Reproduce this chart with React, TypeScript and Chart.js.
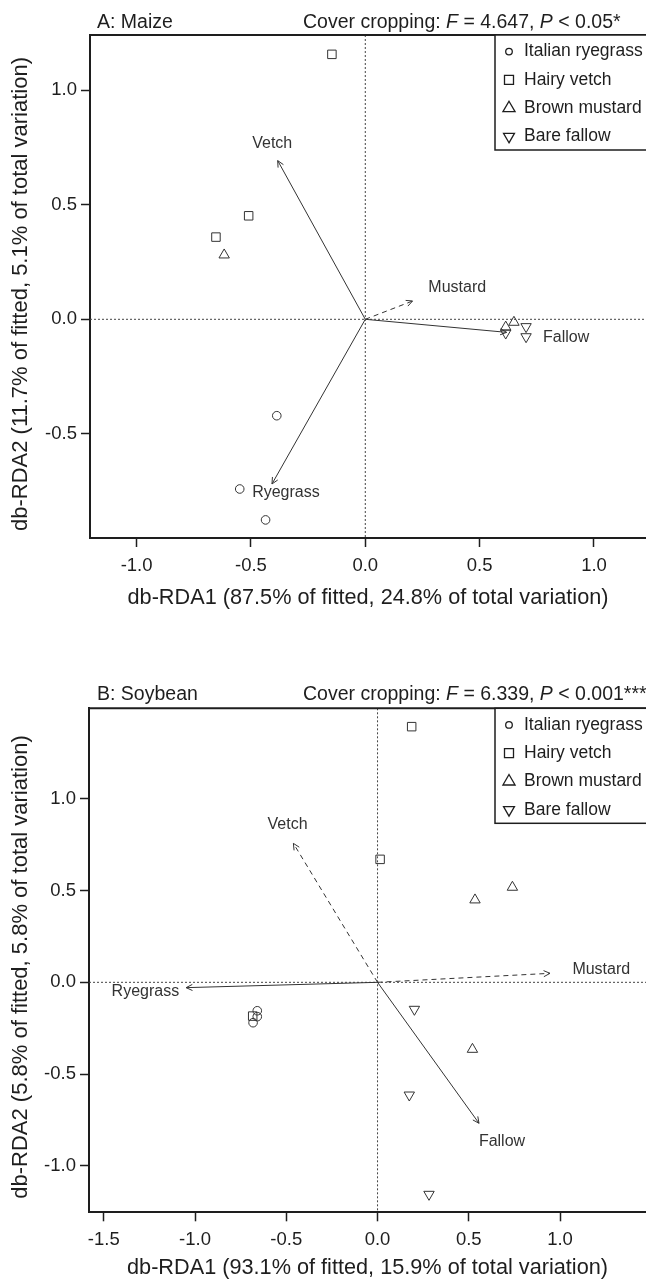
import React, { useEffect, useRef } from "react";
import { Chart, registerables } from "chart.js";

Chart.register(...registerables);

type Pt = { x: number; y: number };

// ---------- shared ----------
const SERIES_NAMES = ["Italian ryegrass", "Hairy vetch", "Brown mustard", "Bare fallow"];

// ---------- Panel A: Maize ----------
const A_ryegrass: Pt[] = [
  { x: -0.387, y: -0.421 },
  { x: -0.549, y: -0.741 },
  { x: -0.436, y: -0.876 },
];
const A_vetch: Pt[] = [
  { x: -0.146, y: 1.157 },
  { x: -0.51, y: 0.452 },
  { x: -0.653, y: 0.359 },
];
const A_mustard: Pt[] = [
  { x: -0.617, y: 0.281 },
  { x: 0.65, y: -0.013 },
  { x: 0.614, y: -0.034 },
];
const A_fallow: Pt[] = [
  { x: 0.703, y: -0.032 },
  { x: 0.703, y: -0.076 },
  { x: 0.614, y: -0.06 },
];
const A_arrowNames = ["Vetch", "Ryegrass", "Mustard", "Fallow"];
const A_arrowX = [-0.383, -0.408, 0.207, 0.618];
const A_arrowY = [0.693, -0.719, 0.08, -0.057];
const A_arrowDashed = [false, false, true, false];
const A_labelX = [-0.407, -0.347, 0.402, 0.878];
const A_labelY = [0.766, -0.757, 0.14, -0.08];
const A_xTicks = [-1.0, -0.5, 0.0, 0.5, 1.0];
const A_yTicks = [-0.5, 0.0, 0.5, 1.0];
const A_xRange = [-1.2037, 1.2274];
const A_yRange = [-0.955, 1.2415];
const A_name = "A: Maize";
const A_F = "4.647";
const A_P = "< 0.05*";
const A_xTitle = "db-RDA1 (87.5% of fitted, 24.8% of total variation)";
const A_yTitle = "db-RDA2 (11.7% of fitted, 5.1% of total variation)";

// ---------- Panel B: Soybean ----------
const B_ryegrass: Pt[] = [
  { x: -0.659, y: -0.155 },
  { x: -0.659, y: -0.187 },
  { x: -0.682, y: -0.22 },
];
const B_vetch: Pt[] = [
  { x: 0.187, y: 1.393 },
  { x: 0.014, y: 0.67 },
  { x: -0.684, y: -0.184 },
];
const B_mustard: Pt[] = [
  { x: 0.739, y: 0.518 },
  { x: 0.534, y: 0.449 },
  { x: 0.52, y: -0.365 },
];
const B_fallow: Pt[] = [
  { x: 0.202, y: -0.147 },
  { x: 0.174, y: -0.614 },
  { x: 0.282, y: -1.155 },
];
const B_arrowNames = ["Vetch", "Ryegrass", "Mustard", "Fallow"];
const B_arrowX = [-0.461, -1.049, 0.945, 0.556];
const B_arrowY = [0.757, -0.029, 0.049, -0.768];
const B_arrowDashed = [true, false, true, false];
const B_labelX = [-0.493, -1.272, 1.226, 0.682];
const B_labelY = [0.861, -0.051, 0.067, -0.869];
const B_xTicks = [-1.5, -1.0, -0.5, 0.0, 0.5, 1.0];
const B_yTicks = [-1.0, -0.5, 0.0, 0.5, 1.0];
const B_xRange = [-1.581, 1.471];
const B_yRange = [-1.253, 1.493];
const B_name = "B: Soybean";
const B_F = "6.339";
const B_P = "< 0.001***";
const B_xTitle = "db-RDA1 (93.1% of fitted, 15.9% of total variation)";
const B_yTitle = "db-RDA2 (5.8% of fitted, 5.8% of total variation)";

// ---------- styling ----------
const FONT = "'Liberation Sans', Arial, Helvetica, sans-serif";
const INK = "#1e1e1e";
const LINE = "#333333";
const W = 646;

const MARK_STYLE = ["circle", "rect", "triangle", "triangle"];
const MARK_ROT = [0, 0, 0, 180];
const MARK_R = [4.3, 6.0, 6.0, 6.0];

interface Layout {
  canvasH: number;
  padTop: number;
  yAxisW: number;
  xAxisH: number;
  xTitlePadBottom: number;
  yTitleX: number;
  yTitleDy: number;
  legendH: number;
  titleDy: number;
}

interface Spec {
  series: Pt[][];
  arrowNames: string[];
  arrowX: number[];
  arrowY: number[];
  arrowDashed: boolean[];
  labelX: number[];
  labelY: number[];
  xTicks: number[];
  yTicks: number[];
  xRange: number[];
  yRange: number[];
  name: string;
  F: string;
  P: string;
  xTitle: string;
  yTitle: string;
  layout: Layout;
}

const SPEC_A: Spec = {
  series: [A_ryegrass, A_vetch, A_mustard, A_fallow],
  arrowNames: A_arrowNames,
  arrowX: A_arrowX,
  arrowY: A_arrowY,
  arrowDashed: A_arrowDashed,
  labelX: A_labelX,
  labelY: A_labelY,
  xTicks: A_xTicks,
  yTicks: A_yTicks,
  xRange: A_xRange,
  yRange: A_yRange,
  name: A_name,
  F: A_F,
  P: A_P,
  xTitle: A_xTitle,
  yTitle: A_yTitle,
  layout: { canvasH: 640, padTop: 35, yAxisW: 90, xAxisH: 102, xTitlePadBottom: 28.5, yTitleX: 21, yTitleDy: 7.5, legendH: 115, titleDy: 12 },
};

const SPEC_B: Spec = {
  series: [B_ryegrass, B_vetch, B_mustard, B_fallow],
  arrowNames: B_arrowNames,
  arrowX: B_arrowX,
  arrowY: B_arrowY,
  arrowDashed: B_arrowDashed,
  labelX: B_labelX,
  labelY: B_labelY,
  xTicks: B_xTicks,
  yTicks: B_yTicks,
  xRange: B_xRange,
  yRange: B_yRange,
  name: B_name,
  F: B_F,
  P: B_P,
  xTitle: B_xTitle,
  yTitle: B_yTitle,
  layout: { canvasH: 641, padTop: 68.3, yAxisW: 89, xAxisH: 68.7, xTitlePadBottom: 0, yTitleX: 21, yTitleDy: 6.7, legendH: 115, titleDy: 13.5 },
};

function drawMarker(ctx: CanvasRenderingContext2D, kind: number, x: number, y: number) {
  ctx.beginPath();
  if (kind === 0) {
    ctx.arc(x, y, 3.3, 0, Math.PI * 2);
  } else if (kind === 1) {
    ctx.rect(x - 4.5, y - 4.5, 9, 9);
  } else if (kind === 2) {
    const r = 7;
    ctx.moveTo(x, y - r);
    ctx.lineTo(x + r * 0.866, y + r * 0.5);
    ctx.lineTo(x - r * 0.866, y + r * 0.5);
    ctx.closePath();
  } else {
    const r = 6.3;
    ctx.moveTo(x, y + r);
    ctx.lineTo(x + r * 0.866, y - r * 0.5);
    ctx.lineTo(x - r * 0.866, y - r * 0.5);
    ctx.closePath();
  }
  ctx.stroke();
}

function buildChart(canvas: HTMLCanvasElement, spec: Spec): Chart {
  const L = spec.layout;

  const pointSets = spec.series.map((data, i) => ({
    label: SERIES_NAMES[i],
    data,
    pointStyle: MARK_STYLE[i],
    pointRotation: MARK_ROT[i],
    pointRadius: MARK_R[i],
    pointHoverRadius: MARK_R[i],
    pointBorderWidth: 1,
    borderColor: LINE,
    backgroundColor: "rgba(0,0,0,0)",
    pointBackgroundColor: "rgba(0,0,0,0)",
    pointBorderColor: LINE,
    showLine: false,
  }));

  const arrowSets = spec.arrowNames.map((n, i) => ({
    label: n,
    data: [
      { x: 0, y: 0 },
      { x: spec.arrowX[i], y: spec.arrowY[i] },
    ],
    showLine: true,
    borderColor: LINE,
    borderWidth: 1,
    borderDash: spec.arrowDashed[i] ? [5, 4] : [],
    pointRadius: 0,
    pointHoverRadius: 0,
    fill: false,
    tension: 0,
  }));

  const decor = {
    id: "decor",
    beforeDatasetsDraw(chart: any) {
      const { ctx, chartArea: a, scales } = chart;
      const x0 = scales.x.getPixelForValue(0);
      const y0 = scales.y.getPixelForValue(0);
      ctx.save();
      ctx.strokeStyle = "#444";
      ctx.lineWidth = 1;
      ctx.setLineDash([2, 2]);
      ctx.beginPath();
      ctx.moveTo(x0, a.top);
      ctx.lineTo(x0, a.bottom);
      ctx.moveTo(a.left, y0);
      ctx.lineTo(a.right, y0);
      ctx.stroke();
      ctx.restore();
    },
    afterDatasetsDraw(chart: any) {
      const { ctx, scales } = chart;
      const xs = scales.x;
      const ys = scales.y;
      ctx.save();
      ctx.strokeStyle = LINE;
      ctx.lineWidth = 1;
      ctx.setLineDash([]);
      spec.arrowNames.forEach((n, i) => {
        const ox = xs.getPixelForValue(0);
        const oy = ys.getPixelForValue(0);
        const tx = xs.getPixelForValue(spec.arrowX[i]);
        const ty = ys.getPixelForValue(spec.arrowY[i]);
        const ang = Math.atan2(ty - oy, tx - ox);
        const hl = 7;
        const sp = 0.45;
        ctx.beginPath();
        ctx.moveTo(tx - hl * Math.cos(ang - sp), ty - hl * Math.sin(ang - sp));
        ctx.lineTo(tx, ty);
        ctx.lineTo(tx - hl * Math.cos(ang + sp), ty - hl * Math.sin(ang + sp));
        ctx.stroke();
      });
      ctx.fillStyle = "#333";
      ctx.font = `16px ${FONT}`;
      ctx.textAlign = "center";
      ctx.textBaseline = "middle";
      spec.arrowNames.forEach((n, i) => {
        ctx.fillText(n, xs.getPixelForValue(spec.labelX[i]), ys.getPixelForValue(spec.labelY[i]));
      });
      ctx.restore();
    },
    afterDraw(chart: any) {
      const { ctx, chartArea: a } = chart;
      ctx.save();
      // top frame line
      ctx.strokeStyle = INK;
      ctx.lineWidth = 2;
      ctx.beginPath();
      ctx.moveTo(a.left - 1, a.top);
      ctx.lineTo(W + 4, a.top);
      ctx.stroke();

      // legend box
      const lx = 495;
      ctx.fillStyle = "#fff";
      ctx.fillRect(lx, a.top, W + 10 - lx, L.legendH);
      ctx.lineWidth = 1.5;
      ctx.strokeRect(lx, a.top, W + 10 - lx, L.legendH);
      ctx.strokeStyle = INK;
      ctx.lineWidth = 1.3;
      ctx.fillStyle = INK;
      ctx.font = `17.5px ${FONT}`;
      ctx.textAlign = "left";
      ctx.textBaseline = "middle";
      SERIES_NAMES.forEach((name, i) => {
        const yy = a.top + 16.6 + 28.3 * i;
        drawMarker(ctx, i, 509, yy);
        ctx.fillText(name, 524, yy);
      });

      // titles
      const ty = a.top - L.titleDy;
      ctx.font = `19.5px ${FONT}`;
      ctx.fillText(spec.name, 97, ty);
      const parts: [string, boolean][] = [
        ["Cover cropping: ", false],
        ["F", true],
        [" = " + spec.F + ", ", false],
        ["P", true],
        [" " + spec.P, false],
      ];
      let cx = 303;
      parts.forEach(([t, it]) => {
        ctx.font = `${it ? "italic " : ""}19.5px ${FONT}`;
        ctx.fillText(t, cx, ty);
        cx += ctx.measureText(t).width;
      });

      // y-axis title (rotated)
      ctx.translate(L.yTitleX, (a.top + a.bottom) / 2 + L.yTitleDy);
      ctx.rotate(-Math.PI / 2);
      ctx.textAlign = "center";
      ctx.textBaseline = "middle";
      ctx.font = `22px ${FONT}`;
      ctx.fillText(spec.yTitle, 0, 0);
      ctx.restore();
    },
  };

  const tickFont = { family: FONT, size: 18.5 };
  const titleFont = { family: FONT, size: 21.7 };

  return new Chart(canvas, {
    type: "scatter",
    data: { datasets: [...pointSets, ...arrowSets] as any },
    options: {
      animation: false,
      responsive: false,
      devicePixelRatio: 1,
      events: [],
      layout: { autoPadding: false, padding: { top: L.padTop, right: 0, bottom: 0, left: 0 } },
      plugins: {
        legend: { display: false },
        tooltip: { enabled: false },
        title: { display: false },
      },
      scales: {
        x: {
          type: "linear",
          min: spec.xRange[0],
          max: spec.xRange[1],
          afterBuildTicks: (s: any) => {
            s.ticks = spec.xTicks.map((v) => ({ value: v }));
          },
          afterFit: (s: any) => {
            s.height = L.xAxisH;
          },
          ticks: {
            callback: (v: any) => Number(v).toFixed(1),
            font: tickFont,
            color: INK,
            padding: 8,
            maxRotation: 0,
            autoSkip: false,
          },
          grid: {
            drawOnChartArea: false,
            drawTicks: true,
            tickLength: 9,
            tickWidth: 1.5,
            tickColor: INK,
          },
          border: { display: true, width: 2, color: INK },
          title: {
            display: true,
            text: spec.xTitle,
            font: titleFont,
            color: INK,
            padding: { top: 0, bottom: L.xTitlePadBottom },
          },
        },
        y: {
          type: "linear",
          min: spec.yRange[0],
          max: spec.yRange[1],
          afterBuildTicks: (s: any) => {
            s.ticks = spec.yTicks.map((v) => ({ value: v }));
          },
          afterFit: (s: any) => {
            s.width = L.yAxisW;
          },
          ticks: {
            callback: (v: any) => Number(v).toFixed(1),
            font: tickFont,
            color: INK,
            padding: 4,
            autoSkip: false,
          },
          grid: {
            drawOnChartArea: false,
            drawTicks: true,
            tickLength: 9,
            tickWidth: 1.5,
            tickColor: INK,
          },
          border: { display: true, width: 2, color: INK },
          title: { display: false },
        },
      },
    },
    plugins: [decor],
  } as any);
}

function Panel({ spec }: { spec: Spec }) {
  const ref = useRef<HTMLCanvasElement>(null);
  useEffect(() => {
    if (!ref.current) return;
    const chart = buildChart(ref.current, spec);
    return () => chart.destroy();
  }, [spec]);
  const h = spec.layout.canvasH;
  return (
    <canvas
      ref={ref}
      width={W}
      height={h}
      style={{ display: "block", width: W, height: h }}
    />
  );
}

export default function App() {
  return (
    <div
      style={{
        position: "fixed",
        left: 0,
        top: 0,
        width: W,
        height: 1281,
        overflow: "hidden",
        background: "#fff",
      }}
    >
      <Panel spec={SPEC_A} />
      <Panel spec={SPEC_B} />
    </div>
  );
}
